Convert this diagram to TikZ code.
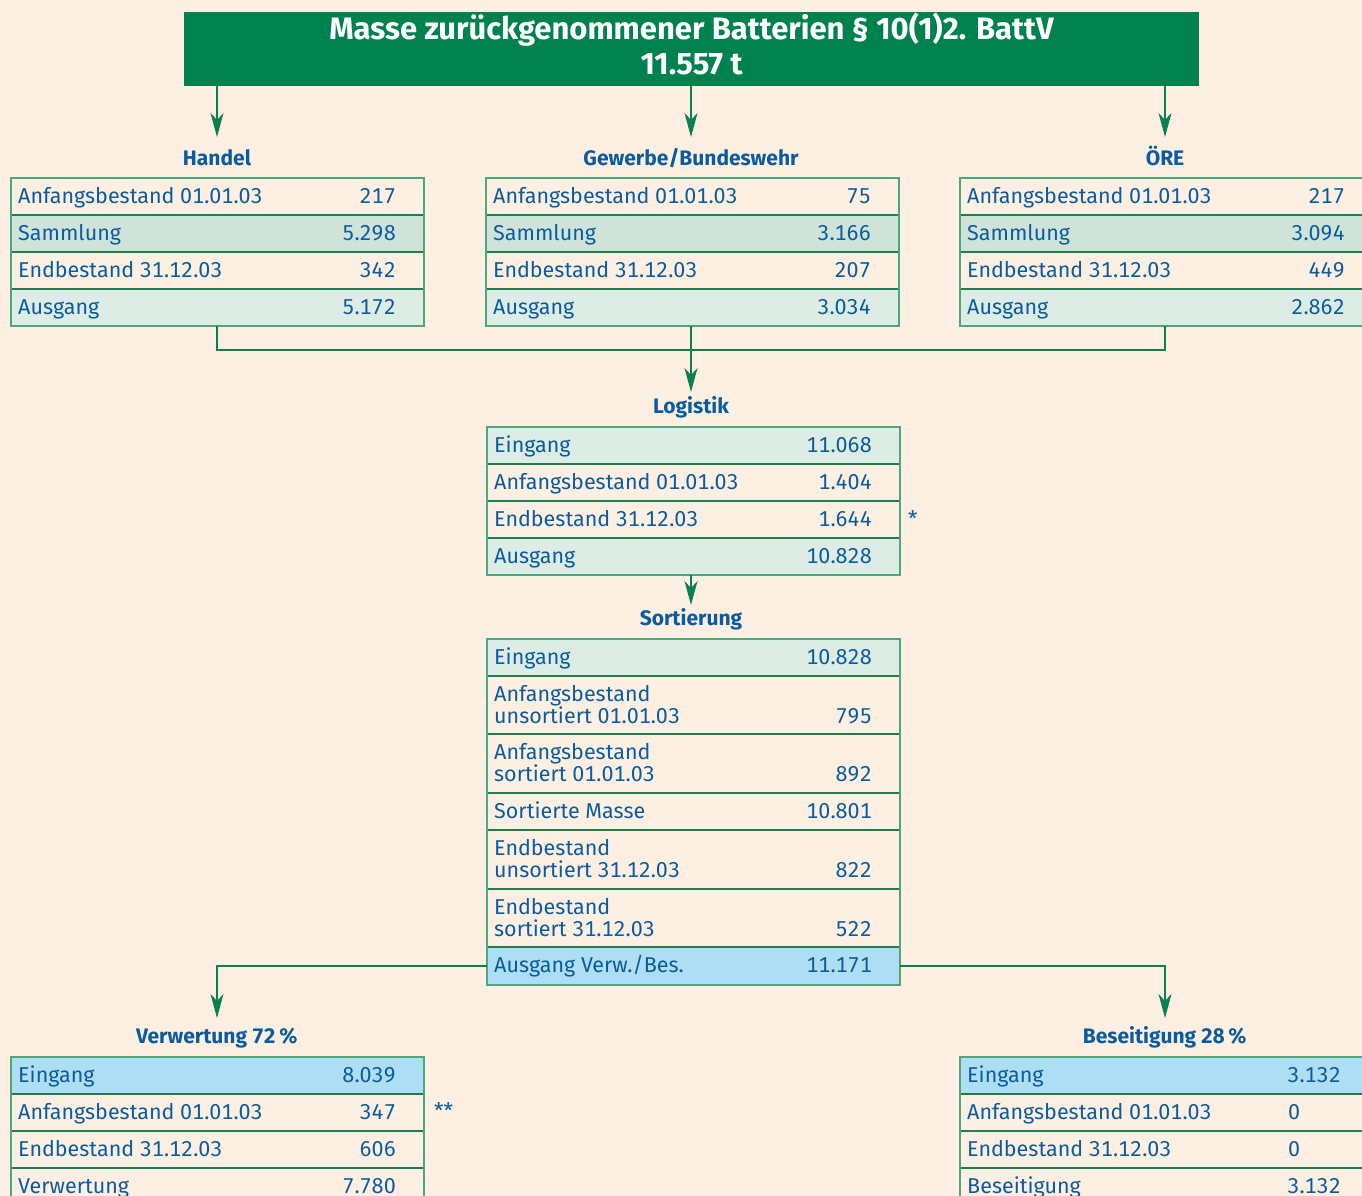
\documentclass[tikz,border=0pt]{standalone}
\usepackage{fontspec}
\setmainfont{Fira Sans}[Numbers=Monospaced]
\newfontfamily\titlefam{Fira Sans}
\usetikzlibrary{calc,arrows.meta}
\definecolor{bgc}{HTML}{FDF0E3}
\definecolor{titleg}{HTML}{00824F}
\definecolor{txtb}{HTML}{0B5C9E}
\definecolor{samg}{HTML}{CFE3D9}
\definecolor{ausg}{HTML}{DDEDE5}
\definecolor{blu}{HTML}{ADDEF4}
\definecolor{frameg}{HTML}{4EA67C}
\definecolor{sepg}{HTML}{1E7D52}
\definecolor{arrg}{HTML}{0A7F50}
\newcommand\myBody{\fontsize{21.5}{23}\selectfont}
\newcommand\myHead{\fontsize{21}{22}\selectfont\bfseries}
\newcommand\myTitle{\titlefam\fontsize{31}{34}\selectfont\bfseries}
\newcommand\myrow[7]{%
  \node[rowbox, fill=#5, minimum height=#4pt] (#1) at (#2,#3) {};
  \node[lbl] (#1l) at ($(#1.north west)+(7,25)$) {#6};
  \node[num] (#1n) at ($(#1.north west)+(385,25)$) {#7};}
\newcommand\myrowii[8]{%
  \node[rowbox, fill=#5, minimum height=#4pt] (#1) at (#2,#3) {};
  \node[lbl] (#1a) at ($(#1.north west)+(7,25)$) {#6};
  \node[lbl] (#1b) at ($(#1.north west)+(7,47)$) {#7};
  \node[num] (#1n) at ($(#1.north west)+(385,47)$) {#8};}
\begin{document}
\begin{tikzpicture}[x=1pt,y=-1pt,
  rowbox/.style={draw=sepg, line width=1.3pt, minimum width=413pt, inner sep=0pt, outer sep=0pt, anchor=north west},
  framebox/.style={draw=frameg, line width=1.6pt, minimum width=413pt, inner sep=0pt, outer sep=0pt, anchor=north west},
  lbl/.style={text=txtb, font=\myBody, inner sep=0pt, anchor=base west},
  num/.style={text=txtb, font=\myBody, inner sep=0pt, anchor=base east},
  head/.style={text=txtb, font=\myHead, inner sep=0pt, anchor=base},
  arr/.style={draw=arrg, line width=1.3pt, -{Stealth[length=24pt,width=13pt,inset=7pt]}},
  conn/.style={draw=arrg, line width=1.3pt}]
\useasboundingbox (0,0) rectangle (1362,1196);
\clip (0,0) rectangle (1362,1196);
\fill[bgc] (0,0) rectangle (1362,1196);

% title
\node[fill=titleg, minimum width=1015pt, minimum height=74pt, inner sep=0pt, anchor=north west] (title) at (184,12) {};
\node[text=white, font=\myTitle, inner sep=0pt, anchor=base] (t1) at (691.5,40) {Masse zurückgenommener Batterien § 10(1)2. BattV};
\node[text=white, font=\myTitle, inner sep=0pt, anchor=base] (t2) at (691.5,75) {11.557 t};

% arrow targets
\coordinate (hIn) at (217,137);
\coordinate (gIn) at (691,137);
\coordinate (oIn) at (1165,137);
\coordinate (join) at (691,350);
\coordinate (lIn) at (691,392);
\coordinate (sIn) at (691,605);
\coordinate (vIn) at (217,1018);
\coordinate (bIn) at (1165,1018);

% headers
\node[head] (hh) at (217,165) {Handel};
\node[head] (gh) at (691,165) {Gewerbe/Bundeswehr};
\node[head] (oh) at (1165,165) {ÖRE};
\node[head] (lh) at (691,413) {Logistik};
\node[head] (sh) at (691,625) {Sortierung};
\node[head] (vh) at (217,1043) {Verwertung 72\,\%};
\node[head] (bh) at (1165,1043) {Beseitigung 28\,\%};

% Handel
\myrow{ha}{11}{178}{37}{bgc}{Anfangsbestand 01.01.03}{217}
\myrow{hb}{11}{215}{37}{samg}{Sammlung}{5.298}
\myrow{hc}{11}{252}{37}{bgc}{Endbestand 31.12.03}{342}
\myrow{hd}{11}{289}{37}{ausg}{Ausgang}{5.172}
\node[framebox, minimum height=148pt] (handel) at (11,178) {};

% Gewerbe
\myrow{ga}{486}{178}{37}{bgc}{Anfangsbestand 01.01.03}{75}
\myrow{gb}{486}{215}{37}{samg}{Sammlung}{3.166}
\myrow{gc}{486}{252}{37}{bgc}{Endbestand 31.12.03}{207}
\myrow{gd}{486}{289}{37}{ausg}{Ausgang}{3.034}
\node[framebox, minimum height=148pt] (gewerbe) at (486,178) {};

% ORE
\myrow{oa}{960}{178}{37}{bgc}{Anfangsbestand 01.01.03}{217}
\myrow{ob}{960}{215}{37}{samg}{Sammlung}{3.094}
\myrow{oc}{960}{252}{37}{bgc}{Endbestand 31.12.03}{449}
\myrow{od}{960}{289}{37}{ausg}{Ausgang}{2.862}
\node[framebox, minimum height=148pt] (ore) at (960,178) {};

% Logistik
\myrow{la}{487}{427}{37}{ausg}{Eingang}{11.068}
\myrow{lb}{487}{464}{37}{bgc}{Anfangsbestand 01.01.03}{1.404}
\myrow{lc}{487}{501}{37}{bgc}{Endbestand 31.12.03}{1.644}
\myrow{ld}{487}{538}{37}{ausg}{Ausgang}{10.828}
\node[framebox, minimum height=148pt] (logistik) at (487,427) {};
\node[lbl] (star1) at (908,526) {*};

% Sortierung
\myrow{sa}{487}{639}{37}{ausg}{Eingang}{10.828}
\myrowii{sb}{487}{676}{58}{bgc}{Anfangsbestand}{unsortiert 01.01.03}{795}
\myrowii{sc}{487}{734}{59}{bgc}{Anfangsbestand}{sortiert 01.01.03}{892}
\myrow{sd}{487}{793}{37}{bgc}{Sortierte Masse}{10.801}
\myrowii{se}{487}{830}{59}{bgc}{Endbestand}{unsortiert 31.12.03}{822}
\myrowii{sf}{487}{889}{58}{bgc}{Endbestand}{sortiert 31.12.03}{522}
\myrow{sg}{487}{947}{38}{blu}{Ausgang Verw./Bes.}{11.171}
\node[framebox, minimum height=346pt] (sortierung) at (487,639) {};

% Verwertung
\myrow{va}{11}{1057}{37}{blu}{Eingang}{8.039}
\myrow{vb}{11}{1094}{37}{bgc}{Anfangsbestand 01.01.03}{347}
\myrow{vc}{11}{1131}{37}{bgc}{Endbestand 31.12.03}{606}
\myrow{vd}{11}{1168}{37}{bgc}{Verwertung}{7.780}
\node[framebox, minimum height=148pt] (verwertung) at (11,1057) {};
\node[lbl] (star2) at (434,1118) {**};

% Beseitigung
\myrow{ba}{960}{1057}{37}{blu}{Eingang}{}
\myrow{bb}{960}{1094}{37}{bgc}{Anfangsbestand 01.01.03}{}
\myrow{bc}{960}{1131}{37}{bgc}{Endbestand 31.12.03}{}
\myrow{bd}{960}{1168}{37}{bgc}{Beseitigung}{}
\node[framebox, minimum height=148pt] (beseitigung) at (960,1057) {};
\node[num] (ban) at (1341,1082) {3.132};
\node[lbl] (bbn) at (1288,1119) {0};
\node[lbl] (bcn) at (1288,1156) {0};
\node[num] (bdn) at (1341,1193) {3.132};

% connectors
\draw[arr] (title.south -| hIn) -- (hIn);
\draw[arr] (title.south -| gIn) -- (gIn);
\draw[arr] (title.south -| oIn) -- (oIn);
\draw[conn] (handel.south -| hIn) |- (join);
\draw[conn] (ore.south -| oIn) |- (join);
\draw[arr] (gewerbe.south -| lIn) -- (lIn);
\draw[arr] (logistik.south -| sIn) -- (sIn);
\draw[arr] (sg.west) -| (vIn);
\draw[arr] (sg.east) -| (bIn);
\end{tikzpicture}
\end{document}
